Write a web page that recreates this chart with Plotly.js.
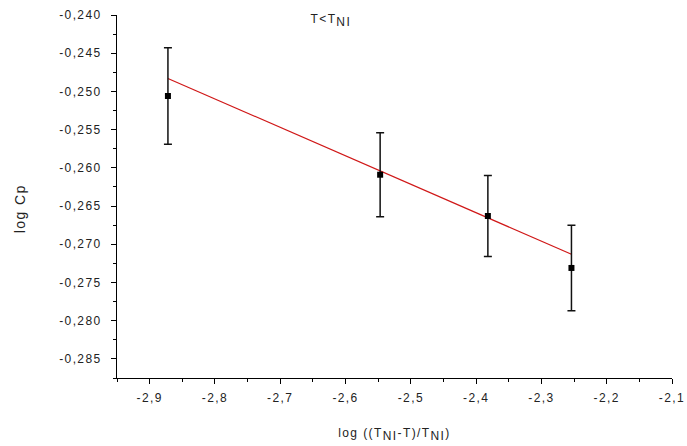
<!DOCTYPE html>
<html>
<head>
<meta charset="utf-8">
<script src="https://cdn.plot.ly/plotly-3.0.1.min.js"></script>
<style>
  html, body { margin: 0; padding: 0; background: #fff; }
  #chart { width: 687px; height: 446px; }
  /* wide, evenly tracked lettering for all chart text */
  #chart svg text { letter-spacing: 1.4px; }
</style>
</head>
<body>
<div id="chart"></div>
<script>
// Measured points: log of reduced temperature vs log Cp, with uncertainties
const logReducedT = [-2.872, -2.547, -2.382, -2.254];
const logCp = [-0.2506, -0.2609, -0.2663, -0.2731];
const logCpErr = [0.0063, 0.0055, 0.0053, 0.0056];

// Linear fit over the measured span: y = fitIntercept + fitSlope * x
const fitSlope = -0.03724;
const fitIntercept = -0.2483 - fitSlope * -2.872;
const fitX = [logReducedT[0], logReducedT[logReducedT.length - 1]];
const fitY = fitX.map(x => fitIntercept + fitSlope * x);

// Tick values and their labels (comma decimal)
const xTickVals = [-2.9, -2.8, -2.7, -2.6, -2.5, -2.4, -2.3, -2.2, -2.1];
const xTickText = ['-2,9', '-2,8', '-2,7', '-2,6', '-2,5', '-2,4', '-2,3', '-2,2', '-2,1'];
const yTickVals = [-0.240, -0.245, -0.250, -0.255, -0.260, -0.265, -0.270, -0.275, -0.280, -0.285];
const yTickText = ['-0,240', '-0,245', '-0,250', '-0,255', '-0,260', '-0,265', '-0,270', '-0,275', '-0,280', '-0,285'];

const font = 'Liberation Sans, Arial, sans-serif';
const textColor = '#222';

const traces = [
  {
    x: fitX,
    y: fitY,
    type: 'scatter',
    mode: 'lines',
    line: { color: '#d01818', width: 1.2 },
    hoverinfo: 'skip'
  },
  {
    x: logReducedT,
    y: logCp,
    type: 'scatter',
    mode: 'markers',
    marker: { symbol: 'square', size: 6, color: '#000' },
    error_y: { type: 'data', array: logCpErr, visible: true, color: '#111', thickness: 1.5, width: 4 }
  }
];

const axisCommon = {
  showgrid: false,
  zeroline: false,
  showline: true,
  linecolor: '#000',
  linewidth: 1,
  ticks: 'outside',
  ticklen: 5,
  tickwidth: 1,
  tickcolor: '#000',
  tickfont: { family: font, size: 12, color: textColor },
  mirror: false
};

const layout = {
  width: 687,
  height: 446,
  margin: { l: 117, r: 15, t: 15, b: 68 },
  paper_bgcolor: '#fff',
  plot_bgcolor: '#fff',
  showlegend: false,
  xaxis: Object.assign({}, axisCommon, {
    range: [-2.95, -2.1],
    tickmode: 'array',
    tickvals: xTickVals,
    ticktext: xTickText,
    ticklabelstandoff: 4,
    minor: { dtick: 0.05, tick0: -2.95, ticks: 'outside', ticklen: 3, tickcolor: '#000', tickwidth: 1 },
    title: {
      text: 'log ((T<sub><span style="font-size:12px">NI</span></sub>-T)/T<sub><span style="font-size:12px">NI</span></sub>)',
      font: { family: font, size: 12, color: textColor },
      standoff: 24
    }
  }),
  yaxis: Object.assign({}, axisCommon, {
    range: [-0.2875, -0.240],
    tickmode: 'array',
    tickvals: yTickVals,
    ticktext: yTickText,
    ticklabelstandoff: 7,
    minor: { dtick: 0.0025, tick0: -0.240, ticks: 'outside', ticklen: 3, tickcolor: '#000', tickwidth: 1 }
  }),
  annotations: [
    {
      // plot heading
      text: 'T&lt;T<sub><span style="font-size:12px">NI</span></sub>',
      xref: 'paper', yref: 'paper',
      x: 0.385, y: 0.985,
      xanchor: 'center', yanchor: 'middle',
      showarrow: false,
      font: { family: font, size: 12, color: textColor }
    },
    {
      // y-axis title, set slightly below the plot's vertical centre
      text: 'log Cp',
      xref: 'paper', yref: 'paper',
      x: -0.175, y: 0.468,
      xanchor: 'center', yanchor: 'middle',
      textangle: -90,
      showarrow: false,
      font: { family: font, size: 14, color: textColor }
    }
  ]
};

Plotly.newPlot('chart', traces, layout, { staticPlot: true, displayModeBar: false });
</script>
</body>
</html>
